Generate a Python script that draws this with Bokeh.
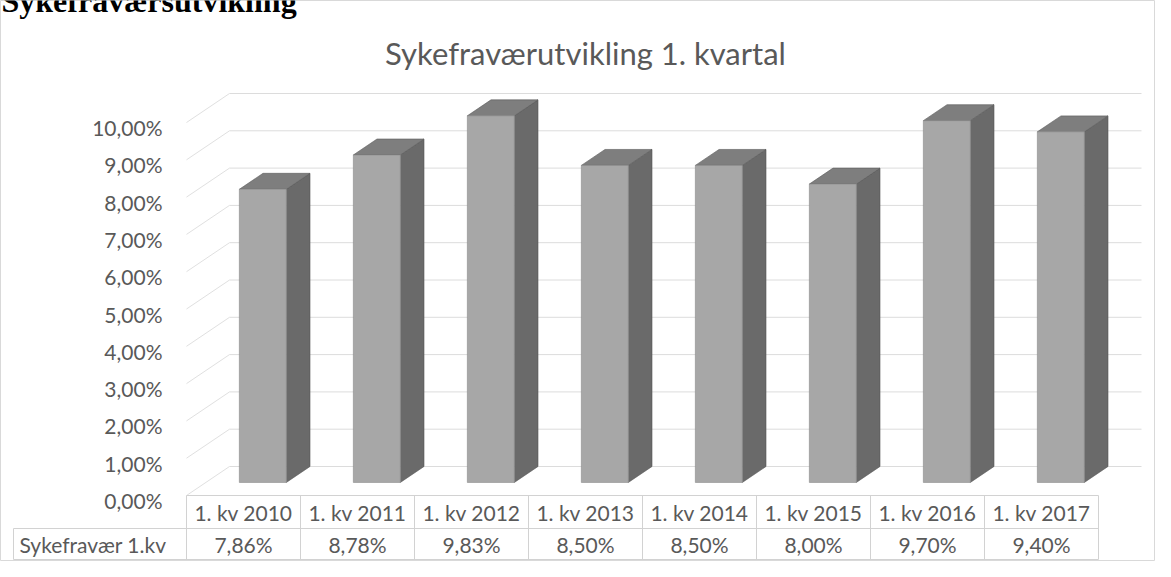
import numpy as np
from bokeh.plotting import figure
from bokeh.models import Range1d
from bokeh.core.properties import value
from bokeh.embed import file_html
from bokeh.resources import INLINE

# ---------------- data ----------------
CATEGORIES = ["1. kv 2010", "1. kv 2011", "1. kv 2012", "1. kv 2013",
              "1. kv 2014", "1. kv 2015", "1. kv 2016", "1. kv 2017"]
VALUES = [7.86, 8.78, 9.83, 8.50, 8.50, 8.00, 9.70, 9.40]   # percent
SERIES_NAME = "Sykefravær 1.kv"
TICKS = [0, 1, 2, 3, 4, 5, 6, 7, 8, 9, 10]
TICK_LABELS = ["0,00%", "1,00%", "2,00%", "3,00%", "4,00%", "5,00%",
               "6,00%", "7,00%", "8,00%", "9,00%", "10,00%"]
TITLE = "Sykefraværutvikling 1. kvartal"
HEADING = "Sykefraværsutvikling"

# ---------------- geometry (units: x = category slots, y = percent) ----------------
PX_X = 1 / 114.0      # one screen pixel in x data units
PX_Y = 1 / 37.3       # one screen pixel in y data units
DEPTH_X = 43 * PX_X   # 3-D depth shift (full floor depth)
DEPTH_Y = 29 * PX_Y
FRONT = 5 * PX_Y      # front plane offset above label plane
Z0, Z1 = 0.45, 1.0    # bar depth extent
HALF_W = 23.5 * PX_X
TABLE_TOP = FRONT
ROW1 = TABLE_TOP - 33 * PX_Y
ROW2 = ROW1 - 31 * PX_Y
LEFT_CELL = -0.5 - 173 * PX_X

FONT = value("Lato")
GREY_TXT = "#595959"


def proj(x, v, z):
    return x + z * DEPTH_X, v + FRONT + z * DEPTH_Y


n = len(VALUES)
xmin = -0.5 - 186 * PX_X
xmax = n
ymax = 500 * PX_Y
ymin = -61 * PX_Y

p = figure(width=1155, height=561, x_range=Range1d(xmin, xmax), y_range=Range1d(ymin, ymax),
           x_axis_type=None, y_axis_type=None, toolbar_location=None, output_backend="svg",
           min_border=0, min_border_left=0, min_border_right=0, min_border_top=0, min_border_bottom=0)
p.outline_line_color = "#d9d9d9"
p.background_fill_color = "white"
p.border_fill_color = "white"

# ---------------- walls ----------------
gx0, gx1, gy = [], [], []
for t in TICKS:
    a = proj(-0.5, t, 1.0)
    b = proj(n - 0.5, t, 1.0)
    gx0.append(a[0]); gx1.append(b[0]); gy.append(a[1])
p.segment(x0=gx0, y0=gy, x1=gx1, y1=gy, line_color="#dcdcdc", line_width=1)

wx0, wy0, wx1, wy1 = [], [], [], []
for t in TICKS:
    a = proj(-0.5, t, 0.0)
    b = proj(-0.5, t, 1.0)
    wx0.append(a[0]); wy0.append(a[1]); wx1.append(b[0]); wy1.append(b[1])
p.segment(x0=wx0, y0=wy0, x1=wx1, y1=wy1, line_color="#e0e0e0", line_width=1)

# ---------------- bars ----------------
front_xs, front_ys, side_xs, side_ys, top_xs, top_ys = [], [], [], [], [], []
for i, v in enumerate(VALUES):
    x0, x1 = i - HALF_W, i + HALF_W
    f = [proj(x0, 0, Z0), proj(x1, 0, Z0), proj(x1, v, Z0), proj(x0, v, Z0)]
    s = [proj(x1, 0, Z0), proj(x1, 0, Z1), proj(x1, v, Z1), proj(x1, v, Z0)]
    tp = [proj(x0, v, Z0), proj(x1, v, Z0), proj(x1, v, Z1), proj(x0, v, Z1)]
    front_xs.append([q[0] for q in f]); front_ys.append([q[1] for q in f])
    side_xs.append([q[0] for q in s]); side_ys.append([q[1] for q in s])
    top_xs.append([q[0] for q in tp]); top_ys.append([q[1] for q in tp])

p.patches(side_xs, side_ys, fill_color="#6a6a6a", line_color="#555555", line_width=0.6)
p.patches(top_xs, top_ys, fill_color="#7e7e7e", line_color="#5a5a5a", line_width=0.6)
p.patches(front_xs, front_ys, fill_color="#a7a7a7", line_color="#8a8a8a", line_width=0.6)

# ---------------- y tick labels ----------------
lab_x = -0.5 - 24 * PX_X
p.text(x=[lab_x] * len(TICKS), y=TICKS, text=TICK_LABELS, text_align="right",
       text_baseline="middle", text_font=FONT, text_font_size="21px", text_color=GREY_TXT)

# ---------------- data table ----------------
TABLE_LINE = "#d2d2d2"
vx = [-0.5 + k for k in range(n + 1)]
p.segment(x0=vx, y0=[TABLE_TOP] * (n + 1), x1=vx, y1=[ROW2] * (n + 1),
          line_color=TABLE_LINE, line_width=1)
p.segment(x0=[LEFT_CELL], y0=[ROW1], x1=[LEFT_CELL], y1=[ROW2], line_color=TABLE_LINE, line_width=1)
p.segment(x0=[-0.5, LEFT_CELL, LEFT_CELL], y0=[TABLE_TOP, ROW1, ROW2],
          x1=[n - 0.5] * 3, y1=[TABLE_TOP, ROW1, ROW2], line_color=TABLE_LINE, line_width=1)

idx = list(range(n))
value_labels = [("%.2f" % v).replace(".", ",") + "%" for v in VALUES]
p.text(x=idx, y=[(TABLE_TOP + ROW1) / 2] * n, text=CATEGORIES, text_align="center",
       text_baseline="middle", text_font=FONT, text_font_size="21px", text_color=GREY_TXT)
p.text(x=idx, y=[(ROW1 + ROW2) / 2] * n, text=value_labels, text_align="center",
       text_baseline="middle", text_font=FONT, text_font_size="21px", text_color=GREY_TXT)
p.text(x=[LEFT_CELL + 6 * PX_X], y=[(ROW1 + ROW2) / 2], text=[SERIES_NAME], text_align="left",
       text_baseline="middle", text_font=FONT, text_font_size="21px", text_color=GREY_TXT)

# ---------------- titles ----------------
p.text(x=[3.0], y=[(508 - 60) * PX_Y], text=[TITLE], text_align="center",
       text_baseline="alphabetic", text_font=FONT, text_font_size="31px", text_color=GREY_TXT)
p.text(x=[xmin + 1 * PX_X], y=[(508 - 8) * PX_Y], text=[HEADING], text_align="left",
       text_baseline="alphabetic", text_font=value("Liberation Serif"), text_font_style="bold",
       text_font_size="32px", text_color="black")

open("out.html", "w").write(file_html(p, INLINE))
